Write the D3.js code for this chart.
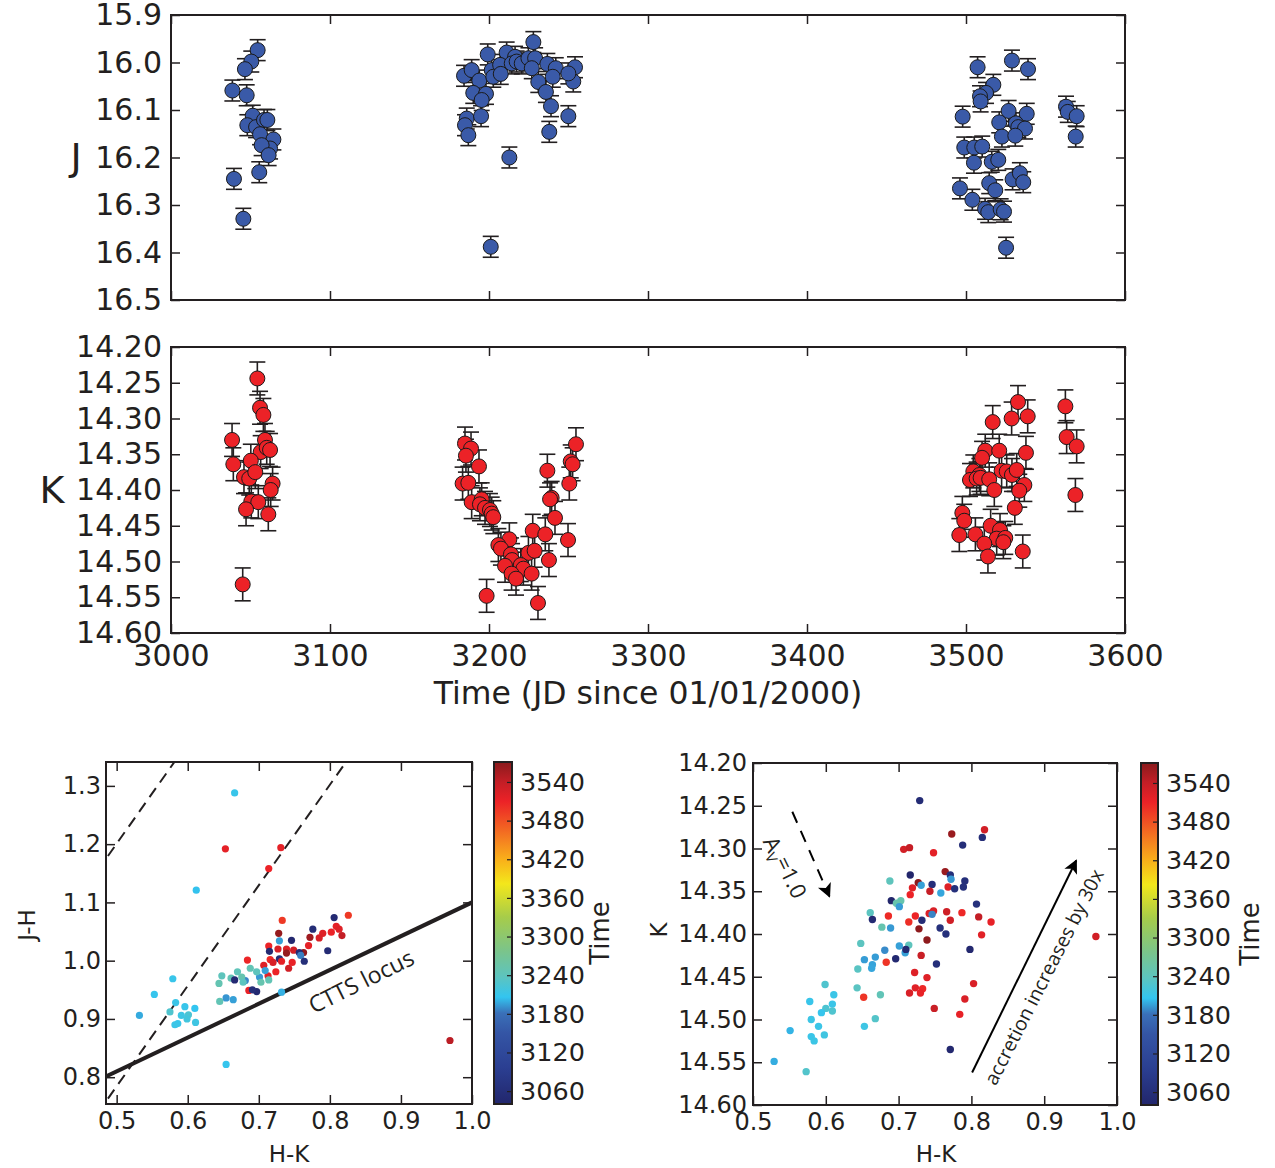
<!DOCTYPE html>
<html>
<head>
<meta charset="utf-8">
<script src="https://d3js.org/d3.v7.min.js"></script>
<style>
body { margin: 0; background: #fff; }
</style>
</head>
<body>
<script>
// ---- light curves (top two panels) ----
const jTime = [3054.5, 3050.5, 3046.5, 3038.6, 3047.6, 3051.4, 3048.0, 3053.5, 3058.5, 3060.6, 3056.0, 3064.4, 3062.3, 3057.0, 3061.4, 3055.5, 3039.6, 3045.5,
  3184.3, 3189.1, 3199.2, 3211.1, 3216.4, 3227.9, 3193.9, 3201.7, 3207.0, 3202.7, 3207.4, 3214.3, 3217.4, 3220.6, 3224.8, 3229.0, 3226.9, 3236.7, 3242.0, 3240.1,
  3231.0, 3235.8, 3239.0, 3249.9, 3237.9, 3254.1, 3253.0, 3249.9, 3190.1, 3198.1, 3195.4, 3186.0, 3184.9, 3195.0, 3187.0, 3212.8, 3201.1,
  3507.3, 3528.9, 3539.0, 3517.2, 3512.6, 3508.8, 3509.2, 3497.9, 3526.8, 3538.2, 3520.9, 3531.4, 3532.9, 3537.1, 3522.6, 3531.0, 3498.9, 3505.2, 3510.2,
  3505.0, 3516.2, 3520.3, 3496.2, 3514.6, 3518.4, 3529.3, 3533.9, 3536.0, 3504.0, 3512.0, 3514.0, 3521.8, 3523.9, 3525.2, 3562.9, 3564.0, 3569.6, 3569.0];
const jMag = [15.974, 15.998, 16.014, 16.059, 16.069, 16.112, 16.132, 16.136, 16.121, 16.121, 16.151, 16.162, 16.181, 16.174, 16.195, 16.231, 16.245, 16.329,
  16.028, 16.016, 15.983, 15.979, 15.988, 15.957, 16.038, 16.016, 16.005, 16.030, 16.024, 16.002, 15.998, 16.002, 15.991, 15.991, 16.012, 16.003, 16.012, 16.030,
  16.041, 16.062, 16.092, 16.113, 16.146, 16.010, 16.040, 16.023, 16.064, 16.066, 16.079, 16.118, 16.132, 16.113, 16.153, 16.200, 16.388,
  16.010, 15.996, 16.014, 16.047, 16.064, 16.071, 16.082, 16.114, 16.102, 16.108, 16.126, 16.128, 16.136, 16.139, 16.156, 16.154, 16.179, 16.179, 16.177,
  16.211, 16.209, 16.205, 16.265, 16.254, 16.269, 16.246, 16.233, 16.252, 16.289, 16.308, 16.315, 16.309, 16.314, 16.390, 16.093, 16.104, 16.113, 16.156];
const jErr = 0.022;

const kTime = [3054.3, 3056.0, 3058.1, 3038.4, 3059.1, 3056.4, 3060.2, 3062.3, 3039.2, 3050.2, 3045.9, 3049.2, 3053.0, 3063.9, 3062.7, 3050.5, 3054.9, 3047.2, 3061.2, 3045.1,
  3184.9, 3188.7, 3185.5, 3193.7, 3254.7, 3251.4, 3252.6, 3236.7, 3250.5, 3183.4, 3187.0, 3239.4, 3238.4, 3189.1, 3195.4, 3194.3, 3197.5, 3200.6, 3201.7, 3202.7,
  3241.5, 3227.5, 3235.4, 3249.7, 3212.8, 3205.9, 3207.5, 3213.8, 3214.5, 3224.8, 3228.7, 3237.7, 3210.1, 3220.0, 3221.6, 3214.2, 3217.0, 3226.8, 3198.5, 3230.8,
  3532.7, 3562.5, 3516.8, 3528.7, 3538.8, 3563.3, 3569.6, 3512.1, 3520.9, 3537.7, 3510.1, 3504.6, 3508.4, 3502.5, 3506.7, 3509.2, 3514.6, 3522.4, 3525.6, 3528.9,
  3531.9, 3517.8, 3536.7, 3533.5, 3568.8, 3530.7, 3497.7, 3498.9, 3515.5, 3495.8, 3505.9, 3521.4, 3519.3, 3524.7, 3523.5, 3511.5, 3513.8, 3535.7];
const kMag = [14.244, 14.285, 14.295, 14.330, 14.330, 14.347, 14.341, 14.344, 14.364, 14.359, 14.382, 14.384, 14.375, 14.391, 14.400, 14.416, 14.417, 14.427, 14.434, 14.532,
  14.335, 14.342, 14.352, 14.367, 14.336, 14.360, 14.364, 14.373, 14.391, 14.391, 14.390, 14.411, 14.413, 14.417, 14.413, 14.420, 14.425, 14.428, 14.433, 14.438,
  14.439, 14.457, 14.462, 14.470, 14.469, 14.477, 14.482, 14.490, 14.498, 14.488, 14.485, 14.498, 14.506, 14.505, 14.510, 14.517, 14.524, 14.517, 14.548, 14.558,
  14.277, 14.283, 14.305, 14.300, 14.297, 14.326, 14.339, 14.345, 14.345, 14.348, 14.355, 14.374, 14.379, 14.386, 14.384, 14.383, 14.385, 14.373, 14.374, 14.379,
  14.372, 14.400, 14.393, 14.401, 14.407, 14.425, 14.432, 14.443, 14.450, 14.463, 14.462, 14.456, 14.468, 14.467, 14.473, 14.475, 14.493, 14.486];
const kErr = 0.023;

const timeTicks = [3000, 3100, 3200, 3300, 3400, 3500, 3600];
const jTicks = [15.9, 16.0, 16.1, 16.2, 16.3, 16.4, 16.5];
const kTicks = [14.20, 14.25, 14.30, 14.35, 14.40, 14.45, 14.50, 14.55, 14.60];

// ---- colour-colour diagram (bottom left) ----
const ccHK = [0.666, 0.653, 0.731, 0.714, 0.612, 0.826, 0.806, 0.733, 0.776, 0.809, 0.813, 0.817, 0.802, 0.790, 0.785, 0.772, 0.728, 0.729, 0.746, 0.770,
  0.714, 0.727, 0.739, 0.749, 0.739, 0.763, 0.757, 0.759, 0.764, 0.715, 0.729, 0.747, 0.716, 0.707, 0.720, 0.732, 0.742, 0.724, 0.797, 0.684,
  0.713, 0.709, 0.686, 0.697, 0.691, 0.732, 0.701, 0.714, 0.703, 0.697, 0.688, 0.681, 0.670, 0.676, 0.678, 0.661, 0.666, 0.648, 0.644, 0.645,
  0.654, 0.664, 0.579, 0.553, 0.532, 0.583, 0.575, 0.596, 0.610, 0.591, 0.601, 0.599, 0.586, 0.582, 0.611, 0.654, 0.969];
const ccJH = [1.288, 1.192, 1.194, 1.158, 1.121, 1.078, 1.074, 1.069, 1.054, 1.059, 1.054, 1.043, 1.049, 1.047, 1.039, 1.040, 1.047, 1.034, 1.035, 1.026,
  1.025, 1.020, 1.020, 1.018, 1.013, 1.014, 1.014, 1.009, 0.999, 1.016, 1.003, 0.997, 1.002, 0.992, 0.997, 0.999, 0.987, 0.981, 1.017, 1.001,
  0.974, 0.983, 0.949, 0.947, 0.950, 0.946, 0.972, 0.967, 0.963, 0.981, 0.987, 0.966, 0.981, 0.972, 0.963, 0.970, 0.967, 0.974, 0.961, 0.930,
  0.936, 0.933, 0.969, 0.942, 0.906, 0.928, 0.912, 0.921, 0.918, 0.906, 0.907, 0.900, 0.892, 0.890, 0.894, 0.822, 0.863];
const ccTime = [3210, 3515, 3515, 3510, 3205, 3495, 3050, 3495, 3055, 3515, 3520, 3540, 3510, 3520, 3525, 3560, 3565, 3195, 3045, 3515,
  3510, 3525, 3520, 3530, 3565, 3568, 3050, 3185, 3060, 3048, 3055, 3512, 3505, 3520, 3525, 3515, 3530, 3510, 3052, 3508,
  3515, 3195, 3512, 3046, 3058, 3200, 3193, 3245, 3250, 3240, 3245, 3188, 3242, 3250, 3238, 3245, 3050, 3240, 3248, 3245,
  3192, 3195, 3210, 3208, 3198, 3212, 3228, 3210, 3206, 3214, 3225, 3218, 3210, 3212, 3215, 3208, 3545];

// ---- colour-magnitude diagram (bottom right) ----
const cmHK = [0.729, 0.773, 0.818, 0.815, 0.788, 0.707, 0.715, 0.748, 0.764, 0.688, 0.716, 0.727, 0.731, 0.719, 0.746, 0.771, 0.772, 0.768, 0.777, 0.791,
  0.789, 0.743, 0.758, 0.716, 0.690, 0.697, 0.703, 0.701, 0.661, 0.664, 0.686, 0.723, 0.732, 0.714, 0.742, 0.748, 0.746, 0.766, 0.771, 0.787,
  0.807, 0.810, 0.827, 0.814, 0.677, 0.689, 0.728, 0.757, 0.765, 0.739, 0.648, 0.701, 0.714, 0.681, 0.709, 0.710, 0.668, 0.653, 0.696, 0.731,
  0.798, 0.683, 0.664, 0.663, 0.752, 0.644, 0.722, 0.739, 0.803, 0.599, 0.611, 0.643, 0.723, 0.733, 0.715, 0.730, 0.652, 0.675, 0.791, 0.609,
  0.600, 0.609, 0.594, 0.578, 0.749, 0.784, 0.580, 0.590, 0.653, 0.668, 0.551, 0.598, 0.580, 0.584, 0.771, 0.529, 0.573, 0.971];
const cmK = [14.244, 14.283, 14.278, 14.287, 14.296, 14.301, 14.299, 14.305, 14.327, 14.338, 14.331, 14.340, 14.343, 14.346, 14.342, 14.331, 14.336, 14.345, 14.347, 14.338,
  14.345, 14.350, 14.352, 14.354, 14.361, 14.364, 14.361, 14.368, 14.375, 14.383, 14.379, 14.379, 14.384, 14.386, 14.376, 14.373, 14.377, 14.374, 14.384, 14.375,
  14.365, 14.380, 14.386, 14.401, 14.392, 14.393, 14.394, 14.393, 14.400, 14.407, 14.411, 14.414, 14.413, 14.419, 14.422, 14.418, 14.427, 14.430, 14.429, 14.425,
  14.418, 14.433, 14.436, 14.440, 14.435, 14.441, 14.445, 14.451, 14.458, 14.459, 14.471, 14.463, 14.463, 14.464, 14.469, 14.469, 14.474, 14.471, 14.476, 14.482,
  14.487, 14.490, 14.492, 14.479, 14.487, 14.494, 14.500, 14.508, 14.508, 14.499, 14.513, 14.518, 14.520, 14.525, 14.535, 14.549, 14.561, 14.403];
const cmTime = [3054, 3563, 3530, 3056, 3058, 3529, 3538, 3517, 3563, 3240, 3039, 3570, 3195, 3520, 3059, 3060, 3193, 3521, 3062, 3061,
  3062, 3538, 3197, 3510, 3039, 3252, 3251, 3194, 3237, 3049, 3505, 3509, 3053, 3503, 3522, 3525, 3187, 3532, 3531, 3506,
  3064, 3540, 3514, 3518, 3250, 3193, 3569, 3063, 3062, 3569, 3237, 3195, 3239, 3189, 3195, 3050, 3194, 3194, 3047, 3536,
  3045, 3498, 3196, 3197, 3061, 3235, 3521, 3520, 3524, 3228, 3212, 3236, 3519, 3506, 3524, 3512, 3498, 3244, 3524, 3211,
  3226, 3227, 3208, 3210, 3536, 3514, 3213, 3212, 3214, 3231, 3201, 3216, 3211, 3213, 3045, 3199, 3230, 3530];

const hkTicks = [0.5, 0.6, 0.7, 0.8, 0.9, 1.0];
const jhTicks = [0.8, 0.9, 1.0, 1.1, 1.2, 1.3];
const cbTicks = [3060, 3120, 3180, 3240, 3300, 3360, 3420, 3480, 3540];
const timeRange = [3040, 3571];

// CTTS locus (J-H = a*(H-K) + b) and reddening lines (point + slope)
const cttsLocus = {slope: 0.58, intercept: 0.52};
const reddeningSlope = 1.725;
const reddeningAnchors = [[0.485, 1.175], [0.494, 0.774]];
// arrows on the K vs H-K panel: [hk0, k0, hk1, k1]
const avArrow = [0.554, 14.257, 0.605, 14.356];
const accretionArrow = [0.801, 14.562, 0.944, 14.314];

// colour map stops
const cmapTimes = [3040, 3097, 3150, 3181, 3206, 3237, 3278, 3330, 3382, 3418, 3449, 3484, 3510, 3541, 3571];
const cmapColors = ["#22266c", "#2b3f92", "#3455a5", "#3a70b8", "#33c5f0", "#5cc4c0", "#7bc48a", "#a6cc4a", "#f3e71b", "#f9b21a", "#f58220", "#f04a24", "#ec2227", "#c21e26", "#8a1a1c"];
const colour = d3.scaleLinear().domain(cmapTimes).range(cmapColors);

const ink = "#231f20";
const font = "DejaVu Sans";

const svg = d3.select("body").append("svg")
  .attr("width", 1275)
  .attr("height", 1168);
svg.append("rect").attr("width", 1275).attr("height", 1168).attr("fill", "#fff");
const defs = svg.append("defs");

function styleAxis(g, size) {
  g.select(".domain").remove();
  g.selectAll(".tick line").attr("stroke", ink).attr("stroke-width", 1.5);
  g.selectAll(".tick text").attr("font-size", size).attr("font-family", font).attr("fill", ink);
}

// frame plus inward ticks on all four sides
function axesBox(x, y, xt, yt, xfmt, yfmt, size, showX, padY, padX) {
  const x0 = x.range()[0], x1 = x.range()[1];
  const y0 = Math.min(...y.range()), y1 = Math.max(...y.range());
  svg.append("g").attr("transform", "translate(" + x0 + ",0)")
    .call(d3.axisLeft(y).tickValues(yt).tickFormat(d3.format(yfmt)).tickSize(-9).tickPadding(padY))
    .call(g => styleAxis(g, size));
  svg.append("g").attr("transform", "translate(" + x1 + ",0)")
    .call(d3.axisRight(y).tickValues(yt).tickFormat("").tickSize(-9))
    .call(g => styleAxis(g, size));
  svg.append("g").attr("transform", "translate(0," + y0 + ")")
    .call(d3.axisTop(x).tickValues(xt).tickFormat("").tickSize(-9))
    .call(g => styleAxis(g, size));
  svg.append("g").attr("transform", "translate(0," + y1 + ")")
    .call(d3.axisBottom(x).tickValues(xt).tickFormat(showX ? d3.format(xfmt) : "").tickSize(-9).tickPadding(padX))
    .call(g => styleAxis(g, size));
  svg.append("rect")
    .attr("x", x0).attr("y", y0)
    .attr("width", x1 - x0).attr("height", y1 - y0)
    .attr("fill", "none").attr("stroke", ink).attr("stroke-width", 2);
}

// ---- top: J and K light curves ----
const xT = d3.scaleLinear().domain([3000, 3600]).range([171, 1125]);
const yJ = d3.scaleLinear().domain([15.9, 16.5]).range([15, 300]);
const yK = d3.scaleLinear().domain([14.2, 14.6]).range([347, 633]);

function lightCurve(times, mags, err, y, fill) {
  const pts = times.map((t, i) => ({t: t, m: mags[i]}));
  const g = svg.append("g");
  const eb = g.selectAll(".eb").data(pts).enter().append("g").attr("stroke", ink).attr("stroke-width", 1.6);
  eb.append("line")
    .attr("x1", d => xT(d.t)).attr("x2", d => xT(d.t))
    .attr("y1", d => y(d.m - err)).attr("y2", d => y(d.m + err));
  [-1, 1].forEach(s => {
    eb.append("line")
      .attr("x1", d => xT(d.t) - 8).attr("x2", d => xT(d.t) + 8)
      .attr("y1", d => y(d.m + s * err)).attr("y2", d => y(d.m + s * err));
  });
  g.selectAll("circle").data(pts).enter().append("circle")
    .attr("cx", d => xT(d.t)).attr("cy", d => y(d.m))
    .attr("r", 7.5)
    .attr("fill", fill)
    .attr("stroke", "#1a1a1a").attr("stroke-width", 1);
}

lightCurve(jTime, jMag, jErr, yJ, "#3a5aa8");
axesBox(xT, yJ, timeTicks, jTicks, "d", ".1f", 30, false, 9, 12);
lightCurve(kTime, kMag, kErr, yK, "#ec2227");
axesBox(xT, yK, timeTicks, kTicks, "d", ".2f", 30, true, 9, 12);

svg.append("text").attr("x", 76).attr("y", 170).attr("text-anchor", "middle")
  .attr("font-family", font).attr("font-size", 38).attr("fill", ink).text("J");
svg.append("text").attr("x", 52).attr("y", 503).attr("text-anchor", "middle")
  .attr("font-family", font).attr("font-size", 38).attr("fill", ink).text("K");
svg.append("text").attr("x", 648).attr("y", 704).attr("text-anchor", "middle")
  .attr("font-family", font).attr("font-size", 31.5).attr("fill", ink).text("Time (JD since 01/01/2000)");

// ---- colour bar ----
const grad = defs.append("linearGradient")
  .attr("id", "cmap").attr("x1", 0).attr("x2", 0).attr("y1", 1).attr("y2", 0);
grad.selectAll("stop").data(cmapTimes).enter().append("stop")
  .attr("offset", d => (d - timeRange[0]) / (timeRange[1] - timeRange[0]))
  .attr("stop-color", d => colour(d));

function colourBar(x0, x1, y0, y1, labelX) {
  const s = d3.scaleLinear().domain(timeRange).range([y1, y0]);
  svg.append("rect").attr("x", x0).attr("y", y0).attr("width", x1 - x0).attr("height", y1 - y0)
    .attr("fill", "url(#cmap)");
  svg.append("g").attr("transform", "translate(" + x1 + ",0)")
    .call(d3.axisRight(s).tickValues(cbTicks).tickFormat(d3.format("d")).tickSize(-5).tickPadding(8))
    .call(g => styleAxis(g, 25.5))
    .call(g => g.selectAll(".tick line").attr("stroke-width", 1.2));
  svg.append("rect").attr("x", x0).attr("y", y0).attr("width", x1 - x0).attr("height", y1 - y0)
    .attr("fill", "none").attr("stroke", ink).attr("stroke-width", 2);
  svg.append("text")
    .attr("transform", "translate(" + labelX + "," + (y0 + y1) / 2 + ") rotate(-90)")
    .attr("text-anchor", "middle").attr("dy", "0.35em")
    .attr("font-family", font).attr("font-size", 26).attr("fill", ink).text("Time");
}

// ---- bottom left: J-H vs H-K ----
const ccX = d3.scaleLinear().domain([0.485, 1.0]).range([106, 472]);
const ccY = d3.scaleLinear().domain([0.754, 1.341]).range([1104, 762]);

defs.append("clipPath").attr("id", "ccClip").append("rect")
  .attr("x", 106).attr("y", 762).attr("width", 366).attr("height", 342);

const ccLines = svg.append("g").attr("clip-path", "url(#ccClip)");
reddeningAnchors.forEach(a => {
  const hk0 = 0.4, hk1 = 1.0;
  ccLines.append("line")
    .attr("x1", ccX(hk0)).attr("y1", ccY(a[1] + reddeningSlope * (hk0 - a[0])))
    .attr("x2", ccX(hk1)).attr("y2", ccY(a[1] + reddeningSlope * (hk1 - a[0])))
    .attr("stroke", ink).attr("stroke-width", 2).attr("stroke-dasharray", "11,7");
});
ccLines.append("line")
  .attr("x1", ccX(0.485)).attr("y1", ccY(cttsLocus.slope * 0.485 + cttsLocus.intercept))
  .attr("x2", ccX(1.0)).attr("y2", ccY(cttsLocus.slope * 1.0 + cttsLocus.intercept))
  .attr("stroke", ink).attr("stroke-width", 4);

svg.append("g").selectAll("circle").data(ccHK).enter().append("circle")
  .attr("cx", d => ccX(d)).attr("cy", (d, i) => ccY(ccJH[i]))
  .attr("r", 3.6)
  .attr("fill", (d, i) => colour(ccTime[i]));

axesBox(ccX, ccY, hkTicks, jhTicks, ".1f", ".1f", 24, true, 5, 8);

const langle = Math.atan2(ccY(cttsLocus.slope * 0.9 + cttsLocus.intercept) - ccY(cttsLocus.slope * 0.8 + cttsLocus.intercept), ccX(0.9) - ccX(0.8)) * 180 / Math.PI;
svg.append("text")
  .attr("transform", "translate(" + (ccX(0.84) + 3) + "," + (ccY(cttsLocus.slope * 0.84 + cttsLocus.intercept) + 25) + ") rotate(" + (langle - 1) + ")")
  .attr("text-anchor", "middle").attr("dy", "0.35em")
  .attr("font-family", "Open Sans").attr("font-size", 23).attr("fill", ink).text("CTTS locus");

svg.append("text").attr("x", 289).attr("y", 1162).attr("text-anchor", "middle")
  .attr("font-family", font).attr("font-size", 23).attr("fill", ink).text("H-K");
svg.append("text").attr("transform", "translate(27,925) rotate(-90)").attr("text-anchor", "middle").attr("dy", "0.35em")
  .attr("font-family", font).attr("font-size", 23).attr("fill", ink).text("J-H");

colourBar(494, 512, 762, 1104, 600);

// ---- bottom right: K vs H-K ----
const cmX = d3.scaleLinear().domain([0.5, 1.0]).range([753, 1117]);
const cmY = d3.scaleLinear().domain([14.2, 14.6]).range([763, 1105]);

svg.append("g").selectAll("circle").data(cmHK).enter().append("circle")
  .attr("cx", d => cmX(d)).attr("cy", (d, i) => cmY(cmK[i]))
  .attr("r", 3.7)
  .attr("fill", (d, i) => colour(cmTime[i]));

axesBox(cmX, cmY, hkTicks, kTicks, ".1f", ".2f", 24, true, 6, 8);

defs.append("marker").attr("id", "headBig").attr("viewBox", "0 0 10 10")
  .attr("refX", 9).attr("refY", 5).attr("markerWidth", 17).attr("markerHeight", 14)
  .attr("markerUnits", "userSpaceOnUse").attr("orient", "auto")
  .append("path").attr("d", "M0,0 L10,5 L0,10 L2.5,5 Z").attr("fill", "#000");

svg.append("line")
  .attr("x1", cmX(avArrow[0])).attr("y1", cmY(avArrow[1]))
  .attr("x2", cmX(avArrow[2])).attr("y2", cmY(avArrow[3]))
  .attr("stroke", "#000").attr("stroke-width", 2).attr("stroke-dasharray", "12,9")
  .attr("marker-end", "url(#headBig)");
svg.append("line")
  .attr("x1", cmX(accretionArrow[0])).attr("y1", cmY(accretionArrow[1]))
  .attr("x2", cmX(accretionArrow[2])).attr("y2", cmY(accretionArrow[3]))
  .attr("stroke", "#000").attr("stroke-width", 2)
  .attr("marker-end", "url(#headBig)");

const av = svg.append("text")
  .attr("transform", "translate(784,868) rotate(64)")
  .attr("text-anchor", "middle").attr("dy", "0.35em")
  .attr("font-family", "Open Sans").attr("font-size", 22).attr("fill", ink);
av.append("tspan").text("A");
av.append("tspan").attr("font-size", 15).attr("dy", "0.3em").text("V");
av.append("tspan").attr("dy", "-0.3em").text("=1.0");

svg.append("text")
  .attr("transform", "translate(1044,977) rotate(-63)")
  .attr("text-anchor", "middle").attr("dy", "0.35em")
  .attr("font-family", "Open Sans").attr("font-size", 19.5).attr("fill", ink).text("accretion increases by 30x");

svg.append("text").attr("x", 936).attr("y", 1162).attr("text-anchor", "middle")
  .attr("font-family", font).attr("font-size", 23).attr("fill", ink).text("H-K");
svg.append("text").attr("transform", "translate(659,930) rotate(-90)").attr("text-anchor", "middle").attr("dy", "0.35em")
  .attr("font-family", font).attr("font-size", 23).attr("fill", ink).text("K");

colourBar(1141, 1158, 763, 1105, 1250);
</script>
</body>
</html>
